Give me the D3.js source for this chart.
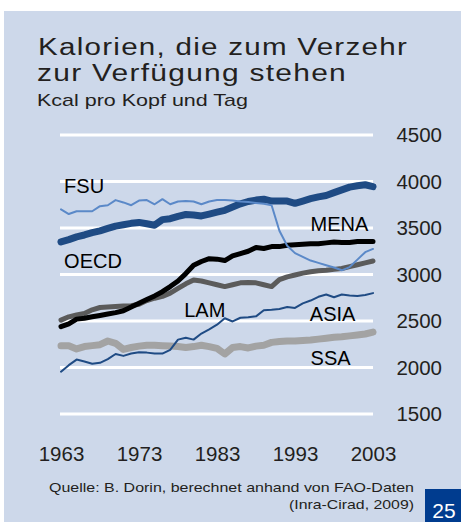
<!DOCTYPE html>
<html>
<head>
<meta charset="utf-8">
<script src="https://cdn.jsdelivr.net/npm/d3@7"></script>
<style>
  body { margin: 0; background: #fff; }
  svg { display: block; font-family: "Liberation Sans", Arial, sans-serif; }
</style>
</head>
<body>
<svg id="chart" width="461" height="522"></svg>
<script>
//years on the x axis
var years = d3.range(1963, 2004);
var yearTicks = [1963, 1973, 1983, 1993, 2003];
var valueTicks = [1500, 2000, 2500, 3000, 3500, 4000, 4500];

//kcal per head and day
var oecd = [3350, 3375, 3405, 3425, 3450, 3470, 3495, 3520, 3535, 3550, 3560, 3545, 3530, 3590, 3600, 3625, 3645, 3640, 3630, 3650,
  3670, 3690, 3725, 3760, 3785, 3800, 3810, 3790, 3790, 3790, 3765, 3790, 3815, 3835, 3850, 3880, 3910, 3940, 3955, 3965, 3945];
var fsu = [3700, 3650, 3680, 3680, 3680, 3735, 3745, 3800, 3775, 3745, 3795, 3800, 3755, 3810, 3755, 3785, 3790, 3785, 3755, 3785,
  3800, 3800, 3795, 3785, 3780, 3770, 3760, 3745, 3470, 3310, 3230, 3190, 3150, 3125, 3100, 3075, 3045, 3080, 3160, 3240, 3275];
var mena = [2440, 2470, 2520, 2530, 2545, 2560, 2575, 2590, 2610, 2650, 2690, 2730, 2770, 2815, 2870, 2930, 3010, 3100, 3140, 3170,
  3165, 3150, 3200, 3225, 3250, 3290, 3280, 3300, 3300, 3315, 3320, 3325, 3330, 3330, 3340, 3350, 3345, 3345, 3355, 3355, 3355];
var lam = [2510, 2545, 2565, 2580, 2620, 2645, 2650, 2655, 2660, 2665, 2680, 2720, 2745, 2765, 2800, 2850, 2900, 2940, 2930, 2910,
  2890, 2870, 2890, 2910, 2915, 2910, 2890, 2870, 2945, 2975, 2995, 3015, 3030, 3040, 3045, 3055, 3065, 3085, 3105, 3125, 3145];
var asia = [1955, 2025, 2085, 2065, 2040, 2050, 2090, 2145, 2125, 2150, 2165, 2160, 2150, 2150, 2190, 2300, 2320, 2300, 2365, 2410,
  2460, 2530, 2495, 2535, 2540, 2550, 2615, 2620, 2630, 2650, 2640, 2690, 2720, 2760, 2785, 2755, 2785, 2775, 2770, 2780, 2800];
var ssa = [2235, 2235, 2200, 2225, 2235, 2245, 2285, 2260, 2195, 2215, 2230, 2240, 2240, 2235, 2230, 2225, 2215, 2225, 2240, 2225,
  2205, 2145, 2215, 2225, 2210, 2230, 2240, 2270, 2280, 2285, 2285, 2290, 2295, 2305, 2315, 2325, 2330, 2340, 2350, 2360, 2380];

var svg = d3.select('#chart');

//light blue panel
svg.append('rect')
  .attr('x', 4).attr('y', 11)
  .attr('width', 457).attr('height', 511)
  .style('fill', '#cdd8ea');

//titles (the original type is a bit wider than Arial, so stretch it)
function stretchedText(str, xPos, yPos, size, len, anchor) {
  return svg.append('text')
    .attr('x', xPos).attr('y', yPos)
    .attr('text-anchor', anchor || 'start')
    .attr('textLength', len)
    .attr('lengthAdjust', 'spacingAndGlyphs')
    .style('font-size', size + 'px')
    .style('fill', '#231f20')
    .text(str);
}
stretchedText('Kalorien, die zum Verzehr', 38, 55, 23.5, 370).style('letter-spacing', '1px');
stretchedText('zur Verfügung stehen', 37, 81, 23.5, 310).style('letter-spacing', '1px');
stretchedText('Kcal pro Kopf und Tag', 37, 106, 17, 211);

//scales
var x = d3.scaleLinear().domain([1963, 2003]).range([61, 373]);
var y = d3.scaleLinear().domain([1500, 4500]).range([414, 135]);

//white gridlines
svg.selectAll('.grid')
  .data(valueTicks)
  .join('line')
  .classed('grid', true)
  .attr('x1', 60).attr('x2', 373)
  .attr('y1', d => y(d)).attr('y2', d => y(d))
  .style('stroke', '#fff')
  .style('stroke-width', 3);

//value labels on the right
var yAxis = svg.append('g')
  .attr('transform', 'translate(442,0)')
  .call(d3.axisRight(y).tickValues(valueTicks).tickFormat(d3.format('d')).tickSize(0).tickPadding(0));
yAxis.select('.domain').remove();
yAxis.selectAll('text')
  .attr('text-anchor', 'end')
  .style('font-family', '"Liberation Sans", Arial, sans-serif')
  .style('font-size', '20.5px')
  .style('fill', '#231f20');

//year labels
var xAxis = svg.append('g')
  .attr('transform', 'translate(0,446)')
  .call(d3.axisBottom(x).tickValues(yearTicks).tickFormat(d3.format('d')).tickSize(0).tickPadding(0));
xAxis.select('.domain').remove();
xAxis.selectAll('text')
  .style('font-family', '"Liberation Sans", Arial, sans-serif')
  .style('font-size', '20.5px')
  .style('fill', '#231f20');

//series lines
var series = [
  {name: 'SSA', values: ssa, color: '#a3a3a3', width: 7},
  {name: 'ASIA', values: asia, color: '#1f4b84', width: 2},
  {name: 'LAM', values: lam, color: '#5b5b5b', width: 5},
  {name: 'MENA', values: mena, color: '#000000', width: 5},
  {name: 'OECD', values: oecd, color: '#1f4b84', width: 7},
  {name: 'FSU', values: fsu, color: '#5b89c8', width: 2}
];

var line = d3.line()
  .x((d, i) => x(years[i]))
  .y(d => y(d));

svg.selectAll('.series')
  .data(series)
  .join('path')
  .classed('series', true)
  .attr('d', d => line(d.values))
  .style('fill', 'none')
  .style('stroke', d => d.color)
  .style('stroke-width', d => d.width)
  .style('stroke-linejoin', 'round')
  .style('stroke-linecap', 'round');

//series names
var labels = [
  {text: 'FSU', x: 1963.4, v: 3880},
  {text: 'OECD', x: 1963.4, v: 3067},
  {text: 'MENA', x: 1995, v: 3471},
  {text: 'LAM', x: 1978.8, v: 2546},
  {text: 'ASIA', x: 1994.9, v: 2503},
  {text: 'SSA', x: 1995, v: 2027}
];
svg.selectAll('.label')
  .data(labels)
  .join('text')
  .classed('label', true)
  .attr('x', d => x(d.x))
  .attr('y', d => y(d.v))
  .style('font-size', '20px')
  .style('fill', '#000')
  .text(d => d.text);

//source note
stretchedText('Quelle: B. Dorin, berechnet anhand von FAO-Daten', 414, 492, 13, 365, 'end');
stretchedText('(Inra-Cirad, 2009)', 414, 509, 13, 125, 'end');

//page number box
svg.append('rect')
  .attr('x', 425).attr('y', 489)
  .attr('width', 36).attr('height', 33)
  .style('fill', '#003c8f');
svg.append('text')
  .attr('x', 444).attr('y', 518)
  .attr('text-anchor', 'middle')
  .style('font-size', '21px')
  .style('fill', '#fff')
  .text('25');
</script>
</body>
</html>
